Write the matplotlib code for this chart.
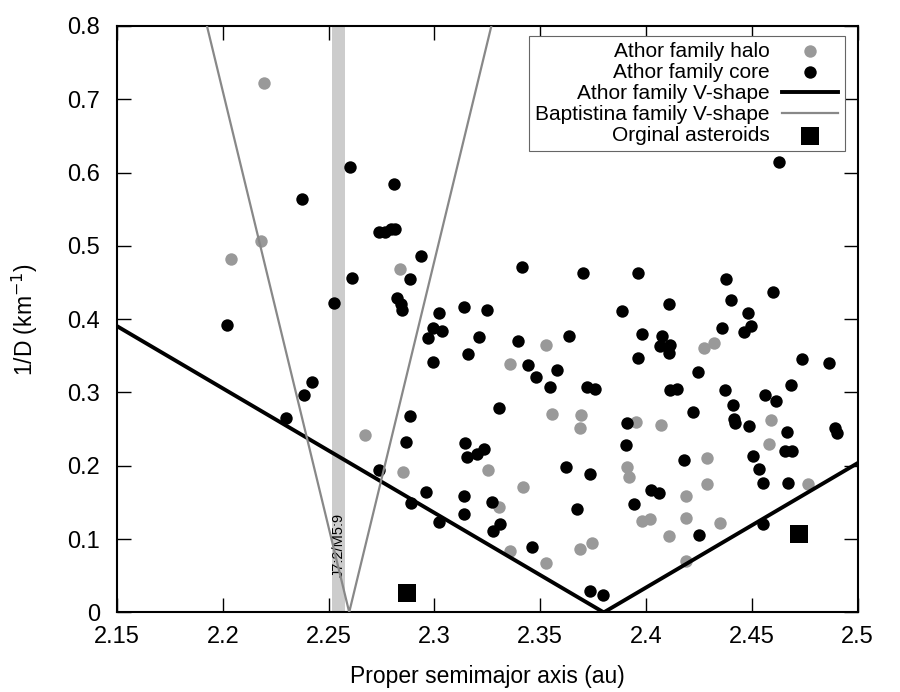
import numpy as np
import matplotlib
matplotlib.use("Agg")
import matplotlib.pyplot as plt

plt.rcParams['font.family'] = ['Liberation Sans', 'DejaVu Sans']

# Athor family halo (gray)
halo_a = [2.2195, 2.2182, 2.2039, 2.2836, 2.2672, 2.2852, 2.3253, 2.3529, 2.3359,
          2.3557, 2.3694, 2.3687, 2.3953, 2.4072, 2.4275, 2.4322, 2.4589, 2.4583,
          2.4764, 2.3420, 2.4287, 2.4287, 2.3912, 2.3920, 2.4190, 2.3307, 2.4190,
          2.3982, 2.4017, 2.4351, 2.4107, 2.3356, 2.3529, 2.3687, 2.3746, 2.4187]
halo_invD = [0.722, 0.506, 0.482, 0.469, 0.2426, 0.1917, 0.1944, 0.3645, 0.3395,
             0.2704, 0.269, 0.2517, 0.2603, 0.2558, 0.3608, 0.3677, 0.263, 0.2303,
             0.1757, 0.1716, 0.2108, 0.1749, 0.1989, 0.1849, 0.1589, 0.1435, 0.1293,
             0.1252, 0.1271, 0.1225, 0.104, 0.0843, 0.0671, 0.087, 0.0944, 0.0698]

# Athor family core (black)
core_a = [2.2376, 2.2600, 2.2808, 2.2740, 2.2768, 2.2793, 2.2814, 2.2938, 2.2611,
          2.2886, 2.2525, 2.2825, 2.2842, 2.2847, 2.3020, 2.3140, 2.3247, 2.4630,
          2.3414, 2.3704, 2.3962, 2.4378, 2.4403, 2.4601, 2.4482, 2.3887, 2.4109,
          2.2021, 2.2423, 2.2385, 2.2299, 2.2992, 2.3036, 2.2968, 2.3212, 2.3160,
          2.2995, 2.2883, 2.2866, 2.3146, 2.3202, 2.3234, 2.3155, 2.2740, 2.2960,
          2.3140, 2.3271, 2.2891, 2.3140, 2.3020, 2.3278, 2.3310,
          2.3396, 2.3636, 2.3979, 2.4074, 2.4066, 2.4113, 2.4110, 2.3962, 2.4360,
          2.4464, 2.4495, 2.4736, 2.4863, 2.3442, 2.3479, 2.3581, 2.3548, 2.3722,
          2.3760, 2.4244, 2.4113, 2.4148, 2.4371, 2.4564, 2.4613, 2.4685, 2.3304,
          2.4220, 2.4411, 2.4416, 2.4419, 2.4485, 2.4665, 2.4658, 2.4688, 2.4895,
          2.4901, 2.3912, 2.3906, 2.3621, 2.3736, 2.4177, 2.4507, 2.4533, 2.4551,
          2.4669, 2.4022, 2.4063, 2.3672, 2.3942, 2.4551, 2.4250, 2.3461, 2.3735,
          2.3796]
core_invD = [0.5645, 0.608, 0.5846, 0.5187, 0.5187, 0.5228, 0.5232, 0.4864, 0.456,
             0.4545, 0.4218, 0.429, 0.4205, 0.4123, 0.4086, 0.4164, 0.4127, 0.615,
             0.4718, 0.4636, 0.4628, 0.4554, 0.4263, 0.4372, 0.4086, 0.4117, 0.4204,
             0.3918, 0.3145, 0.2967, 0.2649, 0.3881, 0.3845, 0.3741, 0.3759, 0.3522,
             0.3418, 0.2685, 0.2326, 0.2317, 0.2162, 0.2235, 0.2117, 0.1944, 0.1644,
             0.1585, 0.1503, 0.149, 0.1348, 0.1235, 0.1112, 0.1207,
             0.3704, 0.3768, 0.3804, 0.3777, 0.3636, 0.3645, 0.3544, 0.3468, 0.3886,
             0.3823, 0.3913, 0.3463, 0.34, 0.3377, 0.3213, 0.3313, 0.3076, 0.3081,
             0.3045, 0.3277, 0.304, 0.3045, 0.3035, 0.2971, 0.2881, 0.31, 0.2794,
             0.274, 0.2831, 0.2644, 0.2589, 0.2544, 0.2463, 0.2199, 0.2199, 0.2517,
             0.2453, 0.2585, 0.2289, 0.1985, 0.1894, 0.2076, 0.2135, 0.1962, 0.1771,
             0.1767, 0.1667, 0.163, 0.1416, 0.1484, 0.1207, 0.1057, 0.0889, 0.0297,
             0.0243]

# Original asteroids (squares)
orig_a = [2.2869, 2.4722]
orig_invD = [0.0262, 0.1075]

# V-shape parameters: 1/D = |a - a_c| / C
athor_ac, athor_C = 2.380, 0.589
bapt_ac, bapt_C = 2.2597, 0.0840

# J7:2/M5:9 resonance
res_a, res_w = 2.2545, 0.006

fig = plt.figure(figsize=(9, 6.92), dpi=100)
ax = fig.add_axes([0.130, 0.115, 0.823, 0.8475])

ax.axvspan(res_a - res_w / 2, res_a + res_w / 2, color='#cccccc', lw=0, zorder=0)
ax.text(res_a + 0.0005, 0.092, 'J7:2/M5:9', rotation=90, fontsize=10.5,
        ha='center', va='center', zorder=1)

ax.scatter(halo_a, halo_invD, s=80, color='#999999', lw=0, zorder=2,
           label='Athor family halo')
ax.scatter(core_a, core_invD, s=80, color='black', lw=0, zorder=2,
           label='Athor family core')

xx = np.linspace(2.15, 2.5, 2001)
ax.plot(xx, np.abs(xx - athor_ac) / athor_C, color='black', lw=2.8, zorder=3,
        label='Athor family V-shape')
ax.plot(xx, np.abs(xx - bapt_ac) / bapt_C, color='#888888', lw=1.6, zorder=3,
        label='Baptistina family V-shape')
ax.scatter(orig_a, orig_invD, s=150, marker='s', color='black', lw=0, zorder=4,
           label='Orginal asteroids')

ax.set_xlim(2.15, 2.5)
ax.set_ylim(0, 0.8)
ax.set_xticks(np.arange(2.15, 2.5001, 0.05))
ax.set_xticklabels(['2.15', '2.2', '2.25', '2.3', '2.35', '2.4', '2.45', '2.5'])
ax.set_yticks(np.arange(0, 0.8001, 0.1))
ax.set_yticklabels(['0', '0.1', '0.2', '0.3', '0.4', '0.5', '0.6', '0.7', '0.8'])
ax.tick_params(direction='in', length=10, width=1, top=True, right=True,
               labelsize=17)
ax.tick_params(axis='x', pad=10)
ax.tick_params(axis='y', pad=12)
for sp in ax.spines.values():
    sp.set_linewidth(1.5)

ax.set_xlabel('Proper semimajor axis (au)', fontsize=16.5, labelpad=12)
ax.set_ylabel('1/D (km$^{-1}$)', fontsize=16.5, labelpad=20)

leg = ax.legend(loc='upper right', bbox_to_anchor=(0.9825, 0.9835), borderaxespad=0,
                markerfirst=False,
                fontsize=15, frameon=True, fancybox=False, framealpha=1,
                edgecolor='#666666', handlelength=2.7, handletextpad=0.6,
                labelspacing=0.1, borderpad=0.3, scatterpoints=1)
leg.get_frame().set_linewidth(0.8)
for c in leg._legend_handle_box.get_children():
    c.align = 'right'

fig.savefig('out.png', dpi=100)
